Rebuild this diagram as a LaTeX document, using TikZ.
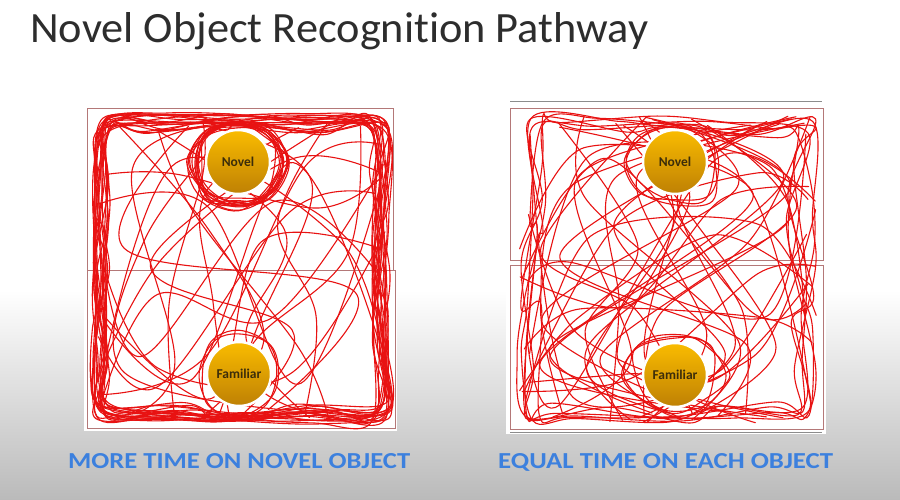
\documentclass[tikz,border=0pt]{standalone}
\usepackage{fontspec}
\setmainfont{Carlito}[Ligatures=NoCommon]
\definecolor{trackred}{RGB}{232,18,18}
\definecolor{framecol}{RGB}{180,120,120}
\definecolor{gold1}{RGB}{250,188,0}
\definecolor{gold2}{RGB}{190,128,4}
\definecolor{objtext}{RGB}{60,45,10}
\definecolor{capblue}{RGB}{60,128,222}
\definecolor{titlecol}{RGB}{45,45,45}
\begin{document}
\begin{tikzpicture}[x=1pt,y=-1pt,
  track/.style={draw=trackred, line width=1.1pt, line join=round, line cap=round},
  frame/.style={draw=framecol, line width=0.6pt},
  rule/.style={draw=black!45, line width=1pt},
  obj/.style={circle, minimum size=64pt, inner sep=0pt, top color=gold1, bottom color=gold2,
    draw=white, line width=2.5pt, text=objtext, font=\bfseries\fontsize{13.5}{14}\selectfont},
  caption/.style={anchor=base west, inner sep=0pt, text=capblue, font=\bfseries},
  titletext/.style={anchor=base west, inner sep=0pt, text=titlecol}]
\useasboundingbox (0,0) rectangle (900,500);
\fill[white] (0,0) rectangle (900,500);
\shade[top color=white, bottom color=black!27] (0,290) rectangle (900,500);

% ---------------- left panel ----------------
\fill[white] (84,105) rectangle (397,431);
\draw[frame] (87,108) rectangle (393,270);
\draw[frame] (87,270) rectangle (395,428);

\pgfmathsetseed{12}
\foreach \k in {1,...,20}{
 \draw[track] plot[smooth cycle, tension=0.55] coordinates {
  ({95+18*rnd},{115+16*rnd})
  ({165+30*rand},{113+22*rnd})
  ({238+20*rand},{113+12*rnd})
  ({310+30*rand},{113+22*rnd})
  ({387-20*rnd},{116+16*rnd})
  ({389-20*rnd},{195+30*rand})
  ({390-18*rnd},{270+30*rand})
  ({390-18*rnd},{345+30*rand})
  ({389-18*rnd},{421-18*rnd})
  ({310+30*rand},{424-22*rnd})
  ({238+20*rand},{424-12*rnd})
  ({165+30*rand},{424-22*rnd})
  ({95+16*rnd},{421-18*rnd})
  ({92+18*rnd},{345+30*rand})
  ({92+18*rnd},{270+30*rand})
  ({92+18*rnd},{195+30*rand})
 };
}
\foreach \k in {1,...,12}{
 \draw[track] plot[smooth cycle, tension=0.6] coordinates {
  ({238+(36+16*rnd)},{162})
  ({238+(36+18*rnd)*0.707},{162+(36+18*rnd)*0.707})
  ({238},{162+(36+14*rnd)})
  ({238-(36+18*rnd)*0.707},{162+(36+18*rnd)*0.707})
  ({238-(36+16*rnd)},{162})
  ({238-(36+12*rnd)*0.707},{162-(36+10*rnd)*0.707})
  ({238},{162-(34+6*rnd)})
  ({238+(36+12*rnd)*0.707},{162-(36+10*rnd)*0.707})
 };
}
\foreach \k in {1,...,2}{
 \draw[track] plot[smooth cycle, tension=0.6] coordinates {
  ({239+(36+10*rnd)},{374})
  ({239+(36+10*rnd)*0.707},{374+(36+10*rnd)*0.707})
  ({239},{374+(36+8*rnd)})
  ({239-(36+10*rnd)*0.707},{374+(36+10*rnd)*0.707})
  ({239-(36+10*rnd)},{374})
  ({239-(36+10*rnd)*0.707},{374-(36+10*rnd)*0.707})
  ({239},{374-(36+10*rnd)})
  ({239+(36+10*rnd)*0.707},{374-(36+10*rnd)*0.707})
 };
}
\foreach \k in {1,...,12}{
 \draw[track] plot[smooth, tension=0.6] coordinates {
  ({105+270*rnd},{118+12*rnd})
  ({115+250*rnd},{220+50*rand})
  ({115+250*rnd},{330+40*rand})
  ({105+270*rnd},{418-10*rnd})};
}
\foreach \k in {1,...,11}{
 \draw[track] plot[smooth, tension=0.6] coordinates {
  ({97+10*rnd},{130+280*rnd})
  ({180+40*rand},{140+260*rnd})
  ({300+40*rand},{140+260*rnd})
  ({385-10*rnd},{130+280*rnd})};
}
\node[obj] (novelL) at (238,162) {Novel};
\node[obj] (famL) at (239,374) {Familiar};

% ---------------- right panel ----------------
\fill[white] (506,98) rectangle (826,434);
\draw[rule] (510,102) -- (822,102);
\draw[frame] (510,108) rectangle (823,260);
\draw[frame] (510,265) rectangle (823,429);
\draw[rule] (510,432) -- (822,432);

\pgfmathsetseed{31}
\foreach \k in {1,...,6}{
 \draw[track] plot[smooth cycle, tension=0.55] coordinates {
  ({520+25*rnd},{114+16*rnd})
  ({590+40*rand},{114+25*rnd})
  ({675+30*rand},{114+14*rnd})
  ({750+40*rand},{114+25*rnd})
  ({816-22*rnd},{116+18*rnd})
  ({816-30*rnd},{195+40*rand})
  ({816-30*rnd},{270+40*rand})
  ({816-30*rnd},{345+40*rand})
  ({816-20*rnd},{422-16*rnd})
  ({750+40*rand},{424-25*rnd})
  ({675+30*rand},{424-14*rnd})
  ({590+40*rand},{424-25*rnd})
  ({518+22*rnd},{422-18*rnd})
  ({516+30*rnd},{345+40*rand})
  ({516+30*rnd},{270+40*rand})
  ({516+30*rnd},{195+40*rand})
 };
}
\foreach \k in {1,...,3}{
 \draw[track] plot[smooth cycle, tension=0.6] coordinates {
  ({675+(36+20*rnd)},{162})
  ({675+(36+20*rnd)*0.707},{162+(36+20*rnd)*0.707})
  ({675},{162+(36+16*rnd)})
  ({675-(36+20*rnd)*0.707},{162+(36+20*rnd)*0.707})
  ({675-(36+16*rnd)},{162})
  ({675-(36+14*rnd)*0.707},{162-(36+10*rnd)*0.707})
  ({675},{162-(34+8*rnd)})
  ({675+(36+14*rnd)*0.707},{162-(36+10*rnd)*0.707})
 };
}
\foreach \k in {1,...,3}{
 \draw[track] plot[smooth cycle, tension=0.6] coordinates {
  ({675+(36+20*rnd)},{375})
  ({675+(36+14*rnd)*0.707},{375+(36+10*rnd)*0.707})
  ({675},{375+(36+10*rnd)})
  ({675-(36+14*rnd)*0.707},{375+(36+10*rnd)*0.707})
  ({675-(36+20*rnd)},{375})
  ({675-(36+20*rnd)*0.707},{375-(36+20*rnd)*0.707})
  ({675},{375-(36+14*rnd)})
  ({675+(36+20*rnd)*0.707},{375-(36+20*rnd)*0.707})
 };
}
\foreach \k in {1,...,22}{
 \draw[track] plot[smooth, tension=0.5] coordinates {
  ({525+285*rnd},{115+14*rnd})
  ({535+265*rnd},{210+50*rand})
  ({535+265*rnd},{320+50*rand})
  ({525+285*rnd},{423-12*rnd})};
}
\foreach \k in {1,...,14}{
 \draw[track] plot[smooth, tension=0.5] coordinates {
  ({518+14*rnd},{125+290*rnd})
  ({610+50*rand},{130+280*rnd})
  ({730+50*rand},{130+280*rnd})
  ({818-14*rnd},{125+290*rnd})};
}
\node[obj] (novelR) at (675,162) {Novel};
\node[obj] (famR) at (675,375) {Familiar};

% ---------------- texts ----------------
\node[titletext] (title) at (30,43) {\resizebox{618pt}{30pt}{Novel Object Recognition Pathway}};
\node[caption] (capL) at (68,468) {\resizebox{342pt}{15pt}{MORE TIME ON NOVEL OBJECT}};
\node[caption] (capR) at (498,468) {\resizebox{335pt}{15pt}{EQUAL TIME ON EACH OBJECT}};
\end{tikzpicture}
\end{document}
